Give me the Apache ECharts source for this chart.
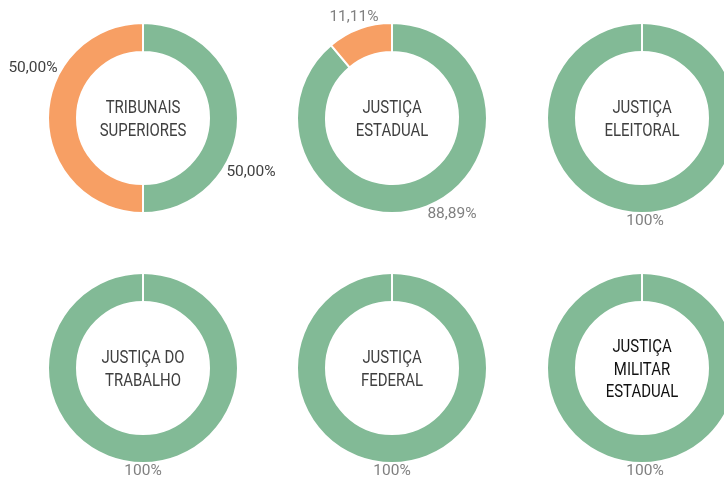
<!DOCTYPE html>
<html>
<head>
<meta charset="utf-8">
<script src="https://cdn.jsdelivr.net/npm/echarts@6/dist/echarts.min.js"></script>
<style>
  html, body { margin: 0; padding: 0; background: #ffffff; }
  #chart { width: 724px; height: 478px; }
</style>
</head>
<body>
<div id="chart"></div>
<script>
// Share of cases by branch of the judiciary (green = first group, orange = second group)
const categories = [
  'TRIBUNAIS\nSUPERIORES',
  'JUSTIÇA\nESTADUAL',
  'JUSTIÇA\nELEITORAL',
  'JUSTIÇA DO\nTRABALHO',
  'JUSTIÇA\nFEDERAL',
  'JUSTIÇA\nMILITAR\nESTADUAL'
];
const greenShare = [50.00, 88.89, 100, 100, 100, 100];
const orangeShare = [50.00, 11.11, 0, 0, 0, 0];

// Layout: ring centres and label anchors (offset from each ring centre)
const centres = [[143, 118], [392, 118], [642, 118], [143, 368], [392, 368], [642, 368]];
const greenLabelOffset = [[108, 54], [60, 96], [3, 103], [0, 103], [0, 103], [3, 103]];
const orangeLabelOffset = [[-110, -50], [-38, -101], null, null, null, null];
const labelColours = ['#404040', '#808080', '#808080', '#808080', '#808080', '#808080'];
const titleColours = ['#404040', '#404040', '#404040', '#404040', '#404040', '#111111'];

const GREEN = '#82ba96';
const ORANGE = '#f79f64';
const FONT = 'Roboto, "Liberation Sans", sans-serif';

function fmt(v) {
  if (v === 100) return '100%';
  return v.toFixed(2).replace('.', ',') + '%';
}

const series = categories.map((name, i) => ({
  type: 'pie',
  name: name,
  center: centres[i],
  radius: [66, 95],
  startAngle: 90,
  clockwise: true,
  silent: true,
  avoidLabelOverlap: false,
  itemStyle: { borderColor: '#ffffff', borderWidth: 2 },
  label: {
    show: true,
    position: 'outside',
    fontFamily: FONT,
    fontSize: 15.5,
    color: labelColours[i],
    formatter: p => fmt(p.value)
  },
  labelLine: { show: false },
  labelLayout: p => {
    const off = p.dataIndex === 0 ? greenLabelOffset[i] : orangeLabelOffset[i];
    if (!off) return {};
    return {
      x: centres[i][0] + off[0],
      y: centres[i][1] + off[1],
      align: 'center',
      verticalAlign: 'middle'
    };
  },
  data: [
    { name: 'verde', value: greenShare[i], itemStyle: { color: GREEN } },
    {
      name: 'laranja',
      value: orangeShare[i],
      itemStyle: { color: ORANGE },
      label: { show: orangeShare[i] > 0 }
    }
  ]
}));

const chart = echarts.init(document.getElementById('chart'), null, { renderer: 'canvas' });
chart.setOption({
  animation: false,
  backgroundColor: '#ffffff',
  series: series,
  // Ring titles, drawn in a narrowed face
  graphic: categories.map((name, i) => ({
    type: 'text',
    x: centres[i][0],
    y: centres[i][1] + 2,
    scaleX: 0.83,
    silent: true,
    style: {
      text: name,
      align: 'center',
      verticalAlign: 'middle',
      font: '18px ' + FONT,
      lineHeight: 22.5,
      fill: titleColours[i]
    }
  }))
});
</script>
</body>
</html>
